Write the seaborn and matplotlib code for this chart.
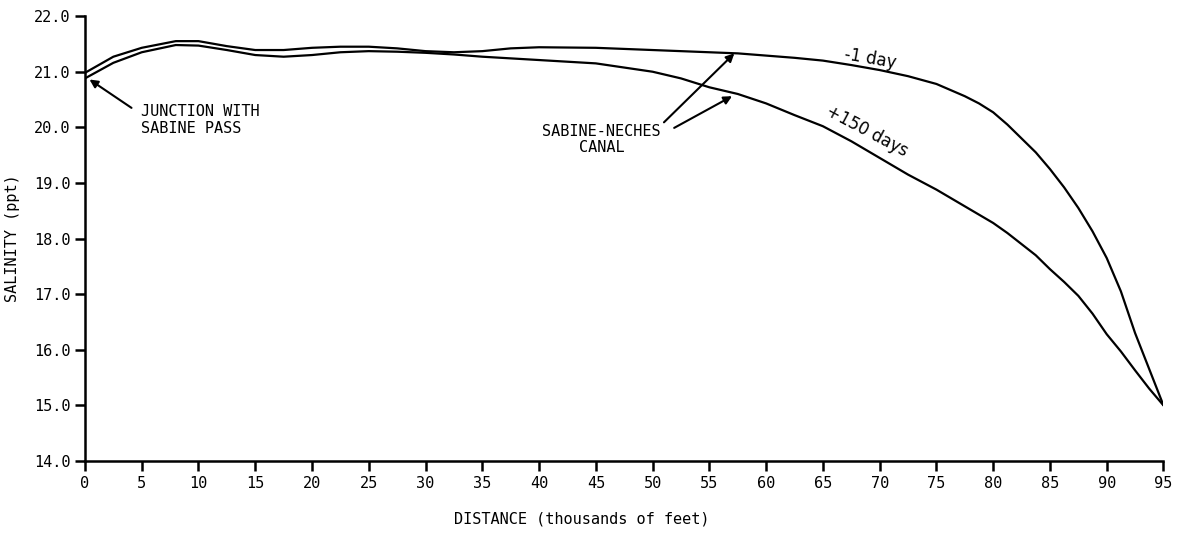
"""
Salinity profile along the Sabine-Neches canal, two time states.
"""
import numpy as np
import pandas as pd
import matplotlib
matplotlib.use("Agg")
import matplotlib.pyplot as plt
import seaborn as sns

# distance along canal, thousands of feet
distance = [0, 2.5, 5, 8, 10, 12.5, 15, 17.5, 20, 22.5, 25, 27.5, 30, 32.5,
            35, 37.5, 40, 45, 50, 52.5, 55, 57.5, 60, 62.5, 65, 67.5, 70,
            72.5, 75, 77.5, 78.75, 80, 81.25, 82.5, 83.75, 85, 86.25, 87.5,
            88.75, 90, 91.25, 92.5, 93.75, 95]

# salinity (ppt), -1 day
sal_minus1 = [20.98, 21.27, 21.43, 21.55, 21.55, 21.46, 21.39, 21.39, 21.43,
              21.45, 21.45, 21.42, 21.37, 21.35, 21.37, 21.42, 21.44, 21.43,
              21.39, 21.37, 21.35, 21.33, 21.29, 21.25, 21.20, 21.12, 21.03,
              20.92, 20.78, 20.56, 20.43, 20.27, 20.05, 19.80, 19.55, 19.25,
              18.92, 18.55, 18.13, 17.65, 17.05, 16.30, 15.65, 15.00]

# salinity (ppt), +150 days
sal_plus150 = [20.88, 21.16, 21.35, 21.48, 21.47, 21.39, 21.30, 21.27, 21.30,
               21.35, 21.37, 21.36, 21.34, 21.31, 21.27, 21.24, 21.21, 21.15,
               21.00, 20.88, 20.72, 20.60, 20.43, 20.22, 20.02, 19.75, 19.45,
               19.15, 18.88, 18.58, 18.43, 18.28, 18.10, 17.90, 17.70, 17.45,
               17.22, 16.97, 16.65, 16.28, 15.97, 15.63, 15.30, 15.00]

x_ticks = list(range(0, 100, 5))
y_ticks = [14.0, 15.0, 16.0, 17.0, 18.0, 19.0, 20.0, 21.0, 22.0]

sns.set_style("ticks")
plt.rcParams['font.family'] = ['DejaVu Sans Mono', 'DejaVu Sans']
plt.rcParams['text.color'] = 'black'
plt.rcParams['axes.labelcolor'] = 'black'

df = pd.DataFrame({
    'Distance': distance * 2,
    'Salinity': sal_minus1 + sal_plus150,
    'Run': ['-1 day'] * len(distance) + ['+150 days'] * len(distance),
})

fig = plt.figure(figsize=(11.8, 5.37), dpi=100)
ax = fig.add_axes([0.072, 0.1415, 0.914, 0.8285])

sns.lineplot(data=df, x='Distance', y='Salinity', units='Run', estimator=None,
             color='black', linewidth=1.6, ax=ax)

ax.set_xlim(0, 95)
ax.set_ylim(14.0, 22.0)
ax.set_xticks(x_ticks)
ax.set_xticklabels([str(t) for t in x_ticks])
ax.set_yticks(y_ticks)
ax.set_yticklabels([f"{t:.1f}" for t in y_ticks])
ax.tick_params(axis='both', direction='out', length=7, width=1.8,
               labelsize=11, colors='black')
for side in ['left', 'bottom']:
    ax.spines[side].set_linewidth(1.8)
    ax.spines[side].set_color('black')
sns.despine(ax=ax)

ax.set_xlabel('DISTANCE (thousands of feet)', fontsize=11, labelpad=15, x=0.461)
ax.set_ylabel('SALINITY (ppt)', fontsize=11, labelpad=10)

# curve labels
ax.text(69.2, 21.24, '-1 day', fontsize=12, rotation=-10,
        ha='center', va='center', family='DejaVu Sans')
ax.text(68.9, 19.93, '+150 days', fontsize=12, rotation=-28,
        ha='center', va='center', family='DejaVu Sans')

arrow = dict(arrowstyle='-|>', color='black', lw=1.5, mutation_scale=12,
             shrinkA=0, shrinkB=0)

ax.text(4.9, 20.13, 'JUNCTION WITH\nSABINE PASS', fontsize=11, ha='left',
        va='center', linespacing=1.15)
ax.annotate('', xy=(0.4, 20.86), xytext=(4.1, 20.35), arrowprops=arrow)

ax.text(45.5, 19.78, 'SABINE-NECHES\nCANAL', fontsize=11, ha='center',
        va='center', linespacing=1.15)
ax.annotate('', xy=(57.2, 21.33), xytext=(51.0, 20.09), arrowprops=arrow)
ax.annotate('', xy=(57.0, 20.56), xytext=(51.9, 19.99), arrowprops=arrow)

fig.savefig('out.png', dpi=100)
plt.close(fig)
